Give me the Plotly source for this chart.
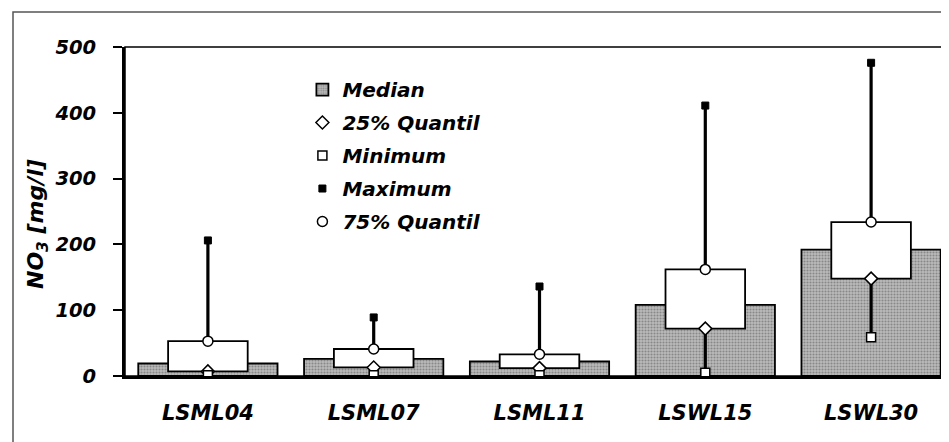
import plotly.graph_objects as go

categories = ["LSML04", "LSML07", "LSML11", "LSWL15", "LSWL30"]
median = [19, 26, 22, 108, 192]
q25 = [7, 13, 12, 72, 148]
q75 = [53, 41, 33, 162, 234]
minimum = [1, 1, 1, 5, 59]
maximum = [206, 89, 136, 411, 476]
y_ticks = [0, 100, 200, 300, 400, 500]

FONT = "DejaVu Sans, Liberation Sans, Arial, sans-serif"

x = list(range(len(categories)))

fig = go.Figure()

# Median bars (gray stipple)
fig.add_trace(go.Bar(
    x=x, y=median, width=0.84, name="Median",
    marker=dict(color="#b0b0b0",
                line=dict(color="black", width=1.8),
                pattern=dict(shape=".", fgcolor="#555555", bgcolor="#bababa", size=3, solidity=0.4)),
    legendgroup="a", showlegend=True,
))

# White quartile box
fig.add_trace(go.Bar(
    x=x, y=[b - a for a, b in zip(q25, q75)], base=q25, width=0.48,
    marker=dict(color="white", line=dict(color="black", width=1.8)),
    showlegend=False, hoverinfo="skip",
))

# Whiskers: min -> q25 and q75 -> max
wx, wy = [], []
for i in x:
    wx += [i, i, None, i, i, None]
    wy += [minimum[i], q25[i], None, q75[i], maximum[i], None]
fig.add_trace(go.Scatter(x=wx, y=wy, mode="lines", line=dict(color="black", width=3.2),
                         showlegend=False, hoverinfo="skip"))

fig.add_trace(go.Scatter(x=x, y=q25, mode="markers", name="25% Quantil", legendgroup="b",
                         marker=dict(symbol="diamond", size=10, color="white", line=dict(color="black", width=1.5))))
fig.add_trace(go.Scatter(x=x, y=minimum, mode="markers", name="Minimum", legendgroup="c",
                         marker=dict(symbol="square", size=9, color="white", line=dict(color="black", width=1.5))))
fig.add_trace(go.Scatter(x=x, y=maximum, mode="markers", name="Maximum", legendgroup="d",
                         marker=dict(symbol="square", size=7, color="black", line=dict(color="black", width=1))))
fig.add_trace(go.Scatter(x=x, y=q75, mode="markers", name="75% Quantil", legendgroup="e",
                         marker=dict(symbol="circle", size=10, color="white", line=dict(color="black", width=1.5))))

fig.update_layout(
    width=949, height=442,
    margin=dict(l=117, r=3, t=39, b=74),
    paper_bgcolor="white", plot_bgcolor="white",
    barmode="overlay",
    font=dict(family=FONT, color="black", weight="bold", style="italic"),
    legend=dict(x=0.214, y=0.93, xanchor="left", yanchor="top",
                bgcolor="rgba(0,0,0,0)", tracegroupgap=4,
                font=dict(family=FONT, size=20, weight="bold", style="italic", color="black")),
    xaxis=dict(range=[-0.5, 4.5], tickmode="array", tickvals=x, ticktext=categories,
               showline=True, linecolor="black", linewidth=3, ticks="", showgrid=False, zeroline=False,
               tickfont=dict(family=FONT, size=21, weight="bold", style="italic"),
               ticklabelstandoff=16),
    yaxis=dict(range=[0, 500], tickmode="array", tickvals=y_ticks,
               showline=True, linecolor="black", linewidth=3, ticks="outside", ticklen=9,
               tickwidth=2, tickcolor="black", showgrid=False, zeroline=False,
               tickfont=dict(family=FONT, size=19.5, weight="bold", style="italic"),
               ticklabelstandoff=13),
    annotations=[
        dict(text="NO<sub>3</sub> [mg/l]", textangle=-90, showarrow=False,
             xref="paper", yref="paper", x=(30 - 117) / 829, y=(368 - 216) / 329,
             xanchor="center", yanchor="middle",
             font=dict(family=FONT, size=22, weight="bold", style="italic", color="black")),
    ],
    shapes=[
        # plot frame top/right
        dict(type="rect", xref="paper", yref="paper", x0=0, y0=0, x1=1, y1=1,
             line=dict(color="black", width=1.5), layer="below"),
        # outer frame
        dict(type="rect", xref="paper", yref="paper", x0=(5 - 117) / 829, x1=1.05,
             y0=-0.5, y1=(368 - 4) / 329, line=dict(color="#555555", width=1.5)),
    ],
)

fig.write_html("out.html")
